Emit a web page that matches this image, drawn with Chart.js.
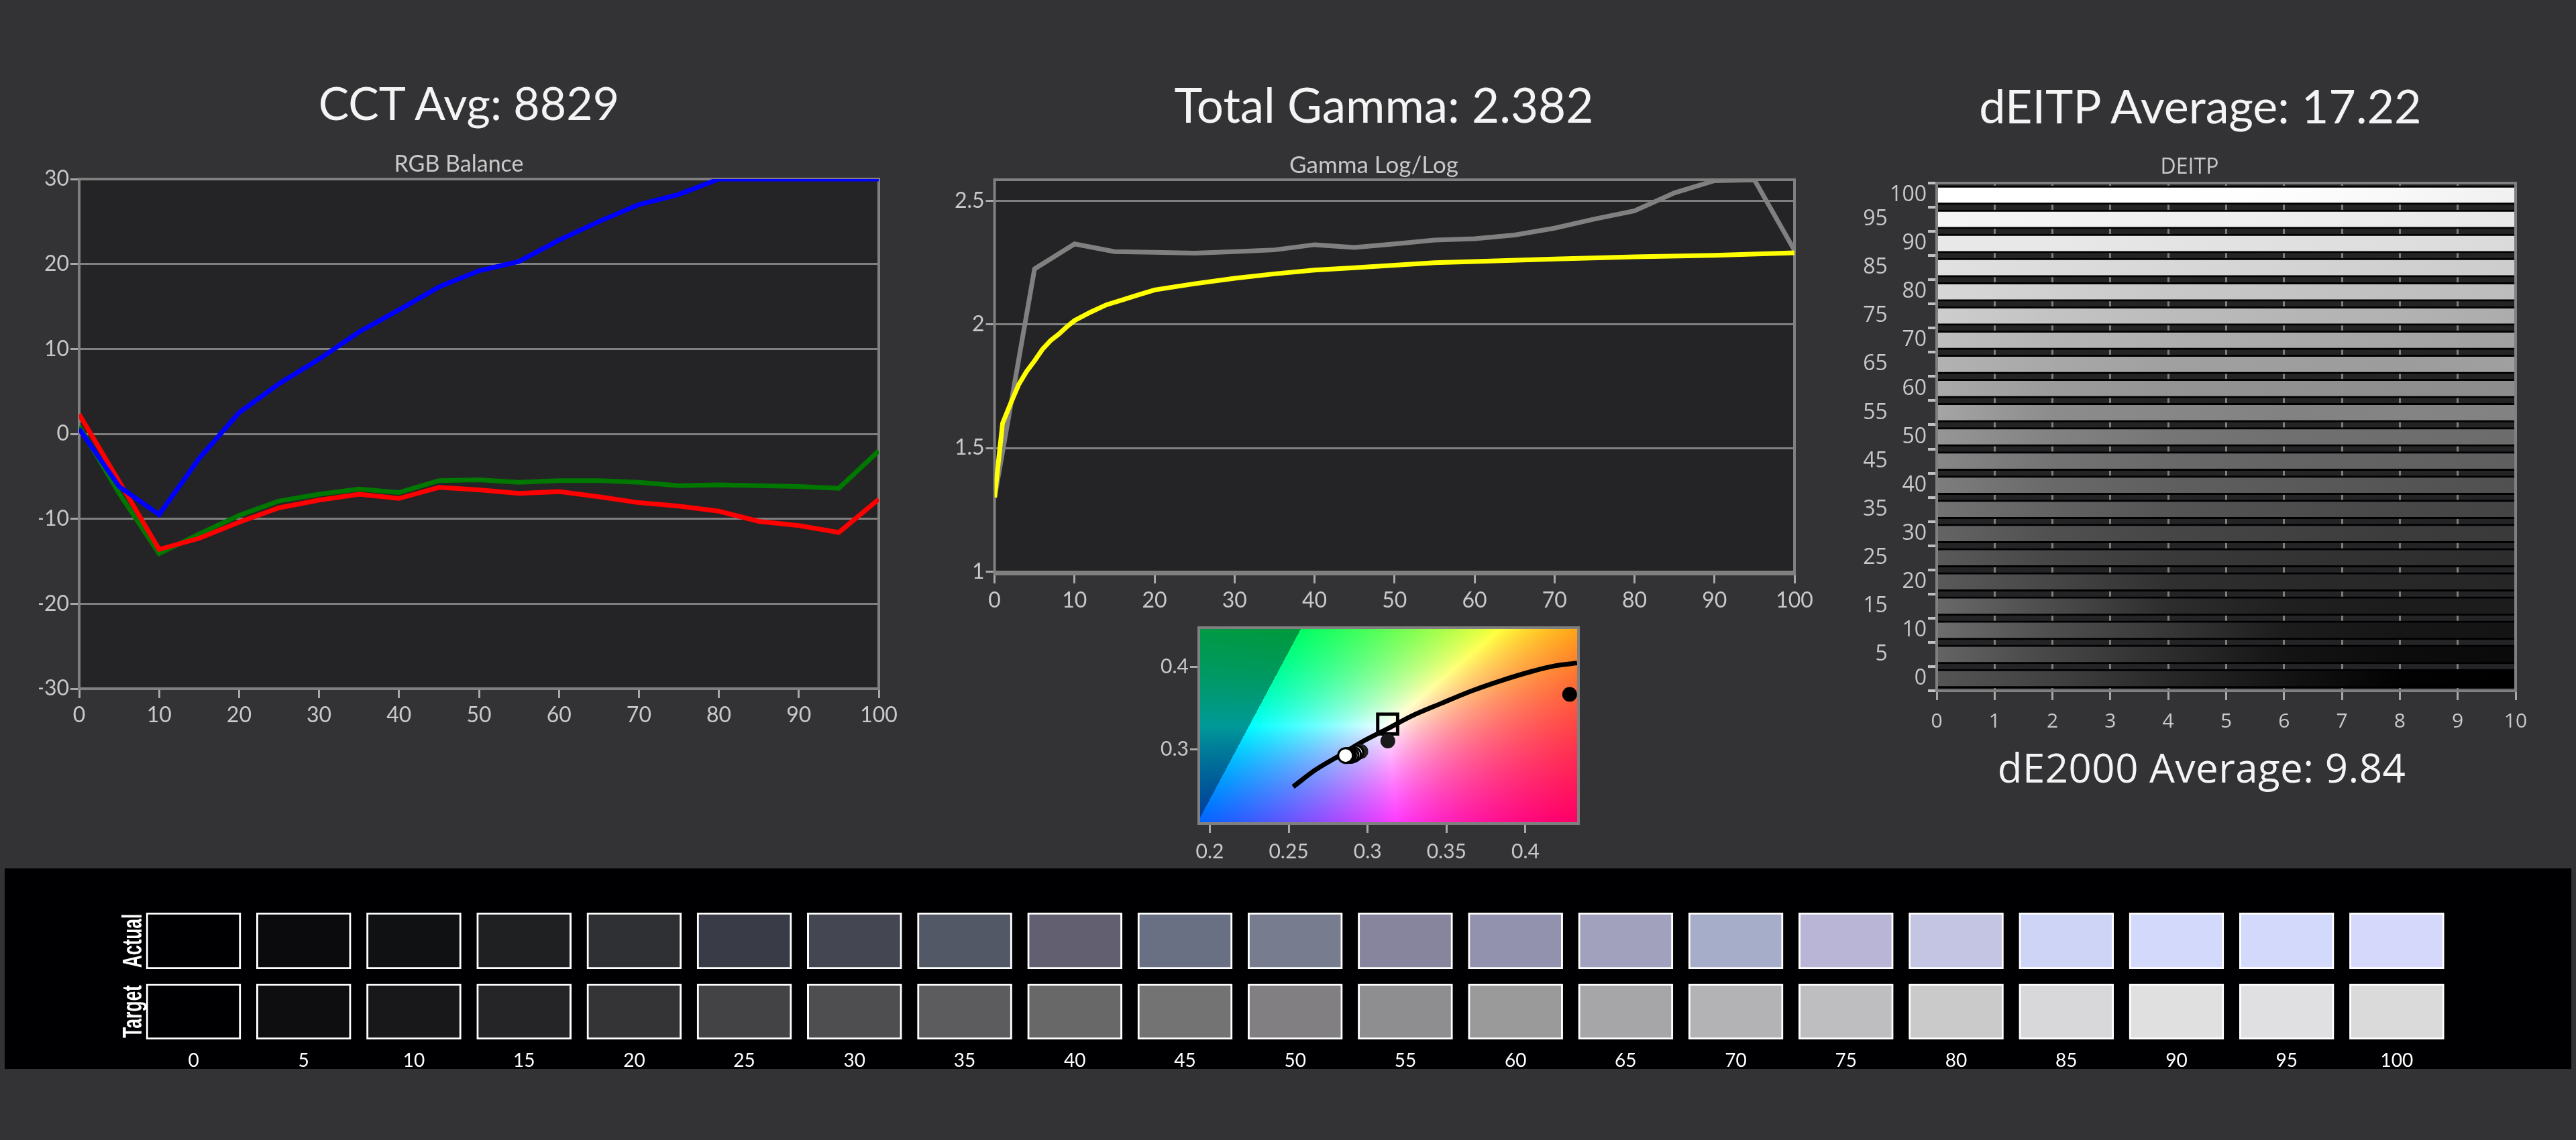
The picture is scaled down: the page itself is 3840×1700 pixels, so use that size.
<!DOCTYPE html>
<html>
<head>
<meta charset="utf-8">
<title>Calibration report</title>
<script src="https://cdn.jsdelivr.net/npm/chart.js@4/dist/chart.umd.min.js"></script>
<style>
  html, body { margin: 0; padding: 0; background: #333335; width: 3840px; height: 1700px; overflow: hidden; }
  canvas { position: absolute; display: block; }
  .heading { position: absolute; width: 1200px; text-align: center; color: #f4f4f4; white-space: nowrap; line-height: 1; }
  #strip { position: absolute; left: 7px; top: 1295px; width: 3826px; height: 299px; background: #000002; }
</style>
</head>
<body>
<div class="heading" style="left:99px;top:112px;font:68px Lato">CCT Avg: 8829</div>
<div class="heading" style="left:1463px;top:113px;font:71px Lato">Total Gamma: 2.382</div>
<div class="heading" style="left:2680px;top:115px;font:70px Lato">dEITP Average: 17.22</div>
<div class="heading" style="left:2682px;top:1103px;font:60px 'Open Sans';letter-spacing:0.5px">dE2000 Average: 9.84</div>
<div id="strip"></div>
<canvas id="rgbChart" width="1368" height="862" style="left:0;top:225px"></canvas>
<canvas id="gammaChart" width="1334" height="690" style="left:1381px;top:226px"></canvas>
<canvas id="cieChart" width="700" height="390" style="left:1700px;top:900px"></canvas>
<canvas id="deitpChart" width="1044" height="859" style="left:2742px;top:231px"></canvas>
<canvas id="actualChart" width="3490" height="84" style="left:179px;top:1361px"></canvas>
<canvas id="targetChart" width="3490" height="130" style="left:179px;top:1467px"></canvas>
<script>
// --- data ---
const levels = [0, 5, 10, 15, 20, 25, 30, 35, 40, 45, 50, 55, 60, 65, 70, 75, 80, 85, 90, 95, 100];

const redBalance = [2.3, -5.6, -13.6, -12.3, -10.4, -8.7, -7.8, -7.1, -7.6, -6.3, -6.6, -7, -6.8, -7.4, -8.1, -8.5, -9.1, -10.3, -10.8, -11.6, -7.7];
const greenBalance = [0.9, -7, -14.1, -11.8, -9.6, -7.9, -7.1, -6.5, -6.9, -5.5, -5.4, -5.7, -5.5, -5.5, -5.7, -6.1, -6, -6.1, -6.2, -6.4, -2];
const blueBalance = [0.6, -6.2, -9.5, -2.9, 2.5, 5.9, 8.8, 12, 14.6, 17.3, 19.2, 20.3, 22.8, 25, 27, 28.2, 30, 30, 30, 30, 30];
const rgbTicksX = [0, 10, 20, 30, 40, 50, 60, 70, 80, 90, 100];
const rgbTicksY = [-30, -20, -10, 0, 10, 20, 30];

const measuredGamma = [1.3, 2.225, 2.326, 2.295, 2.292, 2.289, 2.295, 2.302, 2.323, 2.312, 2.326, 2.342, 2.347, 2.362, 2.39, 2.427, 2.46, 2.533, 2.582, 2.585, 2.3];
const targetGammaX = [0, 1, 2, 3, 4, 5, 6, 7, 8, 9, 10, 12, 14, 16, 18, 20, 22, 25, 30, 35, 40, 45, 50, 55, 60, 70, 80, 90, 100];
const targetGamma = [1.3, 1.6, 1.68, 1.756, 1.81, 1.853, 1.9, 1.935, 1.96, 1.99, 2.016, 2.05, 2.08, 2.1, 2.12, 2.14, 2.15, 2.165, 2.187, 2.205, 2.22, 2.23, 2.24, 2.25, 2.255, 2.265, 2.274, 2.28, 2.29];
const gammaTicksX = [0, 10, 20, 30, 40, 50, 60, 70, 80, 90, 100];
const gammaTicksY = [1, 1.5, 2, 2.5];

const locusX = [0.2528, 0.267, 0.2822, 0.2974, 0.3127, 0.3278, 0.3467, 0.3657, 0.3848, 0.4036, 0.4187, 0.4327];
const locusY = [0.2542, 0.2749, 0.2923, 0.31, 0.325, 0.3403, 0.3558, 0.3708, 0.3836, 0.3945, 0.4015, 0.405];
const darkPointsX = [0.428, 0.3128, 0.2957];
const darkPointsY = [0.3667, 0.31, 0.2972];
const clusterX = [0.2925, 0.291, 0.2895, 0.288, 0.287, 0.286];
const clusterY = [0.2955, 0.2935, 0.2925, 0.2925, 0.2923, 0.2923];
const whiteTargetX = [0.3127];
const whiteTargetY = [0.3306];
const cieTicksX = [0.2, 0.25, 0.3, 0.35, 0.4];
const cieTicksY = [0.3, 0.4];

const deitpLevels = ['100', '95', '90', '85', '80', '75', '70', '65', '60', '55', '50', '45', '40', '35', '30', '25', '20', '15', '10', '5', '0'];
const deitpEnd = [10, 10, 10, 10, 10, 10, 10, 10, 10, 10, 10, 10, 10, 10, 10, 10, 10, 10, 10, 10, 10];
// grey of each band at dE 0, 2, 4, 6, 8, 10
const deitpGreys = [
  [255, 255, 255, 253, 248, 240],
  [245, 243, 240, 238, 235, 232],
  [232, 232, 228, 224, 222, 218],
  [225, 220, 216, 212, 208, 205],
  [215, 208, 200, 196, 192, 188],
  [205, 195, 188, 182, 178, 172],
  [190, 180, 175, 170, 165, 160],
  [178, 168, 160, 158, 156, 160],
  [170, 155, 148, 145, 142, 140],
  [165, 140, 135, 130, 132, 130],
  [150, 130, 118, 112, 110, 108],
  [135, 115, 105, 100, 98, 95],
  [125, 105, 95, 90, 85, 80],
  [115, 98, 85, 78, 72, 68],
  [100, 80, 70, 65, 60, 58],
  [90, 70, 58, 52, 48, 45],
  [90, 70, 48, 42, 40, 38],
  [105, 75, 45, 32, 28, 28],
  [110, 78, 55, 28, 22, 20],
  [100, 70, 45, 20, 12, 10],
  [85, 65, 40, 20, 2, 0]
];
const deitpTicksX = [0, 1, 2, 3, 4, 5, 6, 7, 8, 9, 10];

const swatchHeight = [1, 1, 1, 1, 1, 1, 1, 1, 1, 1, 1, 1, 1, 1, 1, 1, 1, 1, 1, 1, 1];
const actualColors = ['#000003', '#0b0b0d', '#101113', '#1e2022', '#2f3033', '#393c47', '#444752', '#525866', '#625f70', '#6a7083', '#777c8e', '#86859d', '#9291ae', '#a1a0bd', '#a6adc8', '#b8b5d6', '#c3c5e3', '#cdd4f6', '#d3d9fa', '#d3d9fa', '#d5d8fb'];
const targetColors = ['#000002', '#0e0e10', '#18181a', '#252527', '#343436', '#434345', '#4e4e50', '#5c5c5e', '#686868', '#737373', '#817f81', '#8e8d8f', '#9a9a9b', '#a6a5a7', '#b3b2b4', '#bebdbf', '#cacacb', '#d8d8da', '#e0e0e1', '#e0dfe1', '#dadadb'];

// --- helpers ---
const LABEL = '#c9c9c9';
const AXIS = '#808080';
const TICK = '#a8a8a8';

function pairs(xs, ys) {
  return xs.map((x, i) => ({ x: x, y: ys[i] }));
}

function fixedTicks(list) {
  return scale => { scale.ticks = list.map(v => ({ value: v })); };
}

function fixedWidth(w) {
  return scale => { scale.width = w; };
}

function fixedHeight(h) {
  return scale => { scale.height = h; };
}

// plot background or colour field, and frame
const plotArea = {
  id: 'plotArea',
  beforeDraw(chart, args, opts) {
    const a = chart.chartArea, c = chart.ctx;
    if (opts.field) drawGamut(chart);
    else {
      c.save();
      c.fillStyle = '#242426';
      c.fillRect(a.left, a.top, a.right - a.left, a.bottom - a.top);
      c.restore();
    }
  },
  beforeDatasetsDraw(chart, args, opts) {
    if (!opts.frameOnTop) drawFrame(chart);
  },
  afterDatasetsDraw(chart, args, opts) {
    if (opts.frameOnTop) drawFrame(chart);
  }
};

function drawFrame(chart) {
  const a = chart.chartArea, c = chart.ctx;
  c.save();
  c.strokeStyle = AXIS;
  c.lineWidth = 4;
  c.strokeRect(a.left, a.top, a.right - a.left, a.bottom - a.top);
  c.restore();
}

// chromaticity background: colour of each x,y in sRGB primaries, darkened outside the gamut
function drawGamut(chart) {
  const a = chart.chartArea, xs = chart.scales.x, ys = chart.scales.y;
  const w = Math.round(a.right - a.left), h = Math.round(a.bottom - a.top);
  const off = document.createElement('canvas');
  off.width = w;
  off.height = h;
  const oc = off.getContext('2d');
  const img = oc.createImageData(w, h);
  for (let j = 0; j < h; j++) {
    const cy = ys.getValueForPixel(a.top + j);
    for (let i = 0; i < w; i++) {
      const cx = xs.getValueForPixel(a.left + i);
      const X = cx / cy, Z = (1 - cx - cy) / cy;
      const r = 3.2406 * X - 1.5372 - 0.4986 * Z;
      const g = -0.9689 * X + 1.8758 + 0.0415 * Z;
      const b = 0.0557 * X - 0.204 + 1.057 * Z;
      const m = Math.max(r, g, b);
      const k = r < 0 ? 0.6 : 1;
      const p = (j * w + i) * 4;
      img.data[p] = 255 * k * Math.max(r, 0) / m;
      img.data[p + 1] = 255 * k * Math.max(g, 0) / m;
      img.data[p + 2] = 255 * k * Math.max(b, 0) / m;
      img.data[p + 3] = 255;
    }
  }
  oc.putImageData(img, 0, 0);
  chart.ctx.drawImage(off, a.left, a.top);
}

// squeezed, rotated row name on the swatch charts
const rowName = {
  id: 'rowName',
  afterDraw(chart, args, opts) {
    const c = chart.ctx;
    c.save();
    c.translate(21, chart.chartArea.top + (chart.chartArea.bottom - chart.chartArea.top) / 2);
    c.rotate(-Math.PI / 2);
    c.scale(0.66, 1);
    c.fillStyle = '#ffffff';
    c.font = 'bold 40px "Liberation Sans"';
    c.textAlign = 'center';
    c.textBaseline = 'middle';
    c.fillText(opts.text, 0, 0);
    c.restore();
  }
};

function axisFont(size) {
  return { family: 'Lato', size: size };
}

function lineSet(label, xs, ys, color, order) {
  return { label: label, data: pairs(xs, ys), borderColor: color, backgroundColor: color, borderWidth: 7, pointRadius: 0, tension: 0, order: order };
}

function baseOptions(padding) {
  return {
    responsive: false,
    devicePixelRatio: 1,
    animation: false,
    events: [],
    layout: { padding: padding },
    plugins: { legend: { display: false }, tooltip: { enabled: false } }
  };
}

function smallTitle(text, family, size) {
  return { display: true, text: text, color: LABEL, font: { family: family, size: size, weight: 'normal' }, padding: { top: 0, bottom: 42 - size * 1.2 } };
}

function xAxis(ticks, min, max, height, font, pad) {
  return {
    type: 'linear', min: min, max: max,
    afterBuildTicks: fixedTicks(ticks), afterFit: fixedHeight(height),
    grid: { drawOnChartArea: false, color: TICK, tickColor: TICK, lineWidth: 3, tickLength: 14 },
    border: { display: false },
    ticks: { color: LABEL, font: font, padding: pad, maxRotation: 0, autoSkip: false, callback: v => String(v) }
  };
}

function yAxis(ticks, min, max, width, font) {
  return {
    type: 'linear', min: min, max: max,
    afterBuildTicks: fixedTicks(ticks), afterFit: fixedWidth(width),
    grid: { color: AXIS, lineWidth: 3, tickLength: 13, tickColor: TICK },
    border: { display: false },
    ticks: { color: LABEL, font: font, padding: 2, autoSkip: false, callback: v => String(v) }
  };
}

// --- RGB balance ---
const rgbOptions = baseOptions({ left: 58, right: 58, top: 0, bottom: 0 });
rgbOptions.plugins.title = smallTitle('RGB Balance', 'Lato', 34);
rgbOptions.scales = {
  x: xAxis(rgbTicksX, 0, 100, 60, axisFont(32), 6),
  y: yAxis(rgbTicksY, -30, 30, 60, axisFont(32))
};
new Chart(document.getElementById('rgbChart'), {
  type: 'line',
  data: { datasets: [
    lineSet('Blue', levels, blueBalance, '#0000ff', 1),
    lineSet('Red', levels, redBalance, '#ff0000', 2),
    lineSet('Green', levels, greenBalance, '#007800', 3)
  ] },
  options: rgbOptions,
  plugins: [plotArea]
});

// --- Gamma ---
const gammaOptions = baseOptions({ left: 40, right: 40, top: 0, bottom: 0 });
gammaOptions.plugins.title = smallTitle('Gamma Log/Log', 'Lato', 35);
gammaOptions.scales = {
  x: xAxis(gammaTicksX, 0, 100, 60, axisFont(32), 6),
  y: yAxis(gammaTicksY, 0.99, 2.586, 61.6, axisFont(32))
};
new Chart(document.getElementById('gammaChart'), {
  type: 'line',
  data: { datasets: [
    lineSet('Target', targetGammaX, targetGamma, '#ffff00', 1),
    lineSet('Measured', levels, measuredGamma, '#808080', 2)
  ] },
  options: gammaOptions,
  plugins: [plotArea]
});

// --- CIE chromaticity ---
const cieOptions = baseOptions({ left: 0, right: 47, top: 36, bottom: 0 });
cieOptions.plugins.plotArea = { field: true, frameOnTop: true };
cieOptions.scales = {
  x: xAxis(cieTicksX, 0.193, 0.4336, 62, axisFont(30), 10),
  y: yAxis(cieTicksY, 0.2095, 0.448, 87, axisFont(30))
};
cieOptions.scales.y.grid.drawOnChartArea = false;
new Chart(document.getElementById('cieChart'), {
  type: 'scatter',
  data: { datasets: [
    { label: 'Last', data: pairs(clusterX, clusterY), backgroundColor: '#ffffff', borderColor: '#000000', borderWidth: 3, pointRadius: 11, order: 1 },
    { label: 'Measured', data: pairs(darkPointsX, darkPointsY), backgroundColor: ['#000000', '#1a1a1a', '#222222'], borderWidth: 0, pointRadius: 11, order: 2 },
    { label: 'White target', data: pairs(whiteTargetX, whiteTargetY), backgroundColor: 'rgba(0,0,0,0)', borderColor: '#000000', borderWidth: 5, pointStyle: 'rect', pointRadius: 21, order: 3 },
    { label: 'Blackbody', type: 'line', data: pairs(locusX, locusY), borderColor: '#000000', borderWidth: 7, pointRadius: 0, cubicInterpolationMode: 'monotone', order: 4 }
  ] },
  options: cieOptions,
  plugins: [plotArea]
});

// --- DEITP bands ---
const deitpOptions = baseOptions({ left: 36, right: 36, top: 0, bottom: 0 });
deitpOptions.indexAxis = 'y';
deitpOptions.plugins.title = smallTitle('DEITP', 'Open Sans', 32);
deitpOptions.plugins.plotArea = { frameOnTop: true };
deitpOptions.scales = {
  x: xAxis(deitpTicksX, 0, 10, 60, { family: 'Open Sans', size: 30 }, 14),
  y: {
    type: 'category',
    afterFit: fixedWidth(109),
    grid: { drawOnChartArea: false, offset: true, color: '#c0c0c0', lineWidth: 4, tickLength: 13 },
    border: { display: false },
    ticks: {
      color: LABEL,
      font: { family: 'Open Sans', size: 32 },
      padding: 2,
      autoSkip: false,
      // every other label sits one column further out
      callback(v, i) { return deitpLevels[i] + (i % 2 ? '\u00a0'.repeat(7) : ''); }
    }
  }
};
deitpOptions.scales.x.grid.drawOnChartArea = true;
deitpOptions.scales.x.grid.color = AXIS;
new Chart(document.getElementById('deitpChart'), {
  type: 'bar',
  data: {
    labels: deitpLevels,
    datasets: [{
      label: 'DEITP',
      data: deitpEnd,
      barThickness: 28,
      borderColor: '#000000',
      borderWidth: { top: 3, bottom: 3, left: 0, right: 0 },
      borderSkipped: false,
      backgroundColor(ctx) {
        const chart = ctx.chart;
        if (!chart.chartArea || ctx.dataIndex === undefined) return '#808080';
        const x = chart.scales.x;
        const g = chart.ctx.createLinearGradient(x.getPixelForValue(0), 0, x.getPixelForValue(10), 0);
        const row = deitpGreys[ctx.dataIndex];
        row.forEach((v, i) => g.addColorStop(i / (row.length - 1), 'rgb(' + v + ',' + v + ',' + v + ')'));
        return g;
      }
    }]
  },
  options: deitpOptions,
  plugins: [plotArea]
});

// --- greyscale swatches ---
function swatchChart(id, name, colors, showLevels) {
  const options = baseOptions({ left: 0, right: 14, top: 0, bottom: 0 });
  options.plugins.rowName = { text: name };
  options.scales = {
    x: {
      display: showLevels,
      afterFit: showLevels ? fixedHeight(47) : undefined,
      grid: { display: false },
      border: { display: false },
      ticks: { color: '#ffffff', font: axisFont(28), padding: 7, maxRotation: 0, autoSkip: false }
    },
    y: {
      min: 0, max: 1,
      afterFit: fixedWidth(27.4),
      grid: { display: false },
      border: { display: false },
      ticks: { display: false }
    }
  };
  new Chart(document.getElementById(id), {
    type: 'bar',
    data: {
      labels: levels.map(String),
      datasets: [{ label: name, data: swatchHeight, backgroundColor: colors, borderColor: '#ffffff', borderWidth: 3, borderSkipped: false, barThickness: 141 }]
    },
    options: options,
    plugins: [rowName]
  });
}
swatchChart('actualChart', 'Actual', actualColors, false);
swatchChart('targetChart', 'Target', targetColors, true);
</script>
</body>
</html>
